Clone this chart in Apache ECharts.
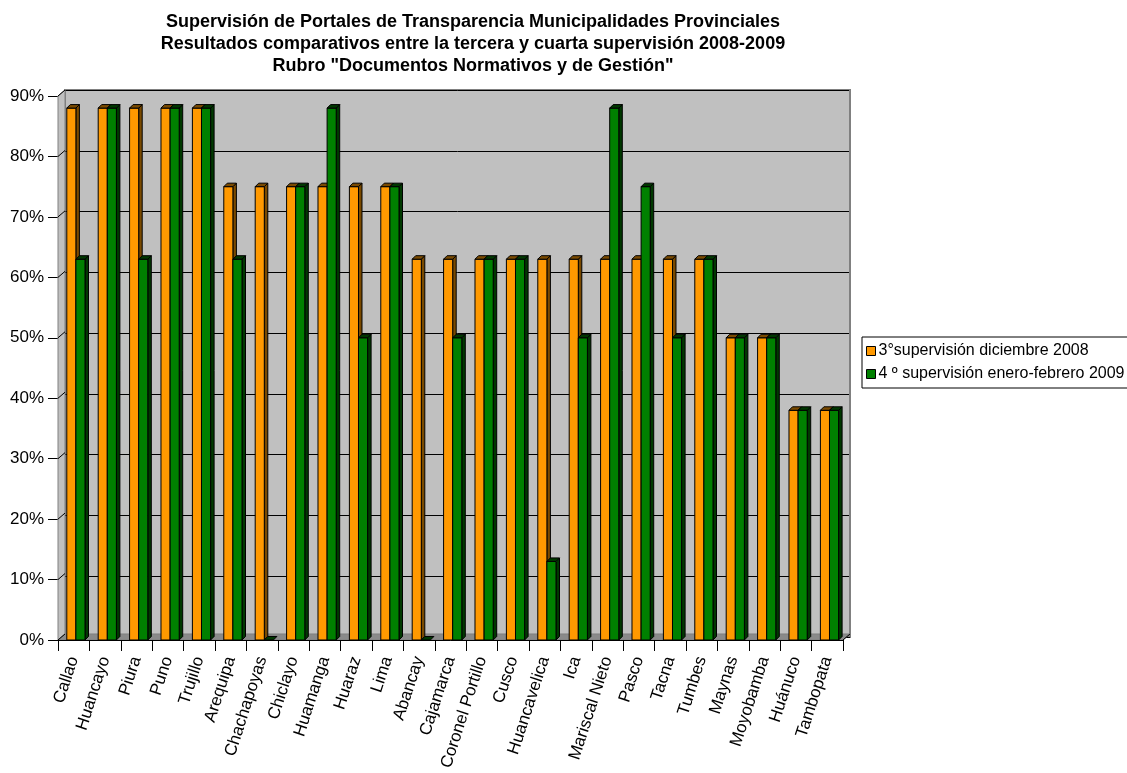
<!DOCTYPE html>
<html>
<head>
<meta charset="utf-8">
<script src="https://cdn.jsdelivr.net/npm/echarts@6/dist/echarts.min.js"></script>
<style>html,body{margin:0;padding:0;background:#fff;}#c{width:1127px;height:773px;}</style>
</head>
<body>
<div id="c"></div>
<script>
const categories = ['Callao','Huancayo','Piura','Puno','Trujillo','Arequipa','Chachapoyas','Chiclayo','Huamanga','Huaraz','Lima','Abancay','Cajamarca','Coronel Portillo','Cusco','Huancavelica','Ica','Mariscal Nieto','Pasco','Tacna','Tumbes','Maynas','Moyobamba','Huánuco','Tambopata'];
const tercera = [88,88,88,88,88,75,75,75,75,75,75,63,63,63,63,63,63,63,63,63,63,50,50,38,38];
const cuarta  = [63,88,63,88,88,63,0,75,88,50,75,0,50,63,63,13,50,88,75,50,63,50,50,38,38];
const seriesNames = ['3°supervisión diciembre 2008','4 º supervisión enero-febrero 2009'];
const yTicks = [0,10,20,30,40,50,60,70,80,90];
const titleText = 'Supervisión de Portales de Transparencia Municipalidades Provinciales\nResultados comparativos entre la tercera y cuarta supervisión 2008-2009\nRubro "Documentos Normativos y de Gestión"';

const DX = 7, DY = 6; // wall depth
const font = 'Arial, "Liberation Sans", sans-serif';

function barRenderer(offFrac, front, dark) {
  return function (params, api) {
    const idx = api.value(0), v = api.value(1);
    const base = api.coord([idx, 0]);
    const top = api.coord([idx, v]);
    const band = api.size([1, 0])[0];
    const w = band * 0.29;
    const x0 = base[0] + offFrac * band;
    const x1 = x0 + w;
    const d = 3.5;
    const yb = base[1], yt = top[1];
    const children = [];
    if (v > 0) {
      children.push({type:'polygon', shape:{points:[[x1,yb],[x1+d,yb-d],[x1+d,yt-d],[x1,yt]]}, style:{fill:dark, stroke:'#000', lineWidth:1}});
      children.push({type:'rect', shape:{x:x0, y:yt, width:w, height:yb-yt}, style:{fill:front, stroke:'#000', lineWidth:1}});
    }
    children.push({type:'polygon', shape:{points:[[x0,yt],[x0+d,yt-d],[x1+d,yt-d],[x1,yt]]}, style:{fill:dark, stroke:'#000', lineWidth:1}});
    return {type:'group', children};
  };
}

function frameRenderer(params, api) {
  const cs = params.coordSys;
  const x = cs.x, y = cs.y, w = cs.width, h = cs.height;
  const yb = y + h;
  const children = [];
  children.push({type:'polygon', shape:{points:[[x,y],[x+DX,y-DY],[x+DX,yb-DY],[x,yb]]}, style:{fill:'#C0C0C0', stroke:'#808080', lineWidth:1}});
  children.push({type:'polygon', shape:{points:[[x,yb],[x+DX,yb-DY],[x+w+DX,yb-DY],[x+w,yb]]}, style:{fill:'#8a8a8a', stroke:'#808080', lineWidth:1}});
  yTicks.forEach(t => {
    const p = api.coord([0, t]);
    children.push({type:'line', shape:{x1:x, y1:p[1], x2:x+DX, y2:p[1]-DY}, style:{stroke:'#000', lineWidth:1}});
  });
  children.push({type:'line', shape:{x1:x+w, y1:yb, x2:x+w+DX, y2:yb-DY}, style:{stroke:'#000', lineWidth:1}});
  children.push({type:'line', shape:{x1:x+w+DX, y1:yb-DY, x2:x+w+DX, y2:y-DY}, style:{stroke:'#808080', lineWidth:2}});
  return {type:'group', children};
}

const chart = echarts.init(document.getElementById('c'), null, {renderer:'canvas'});
const gridL = 58, gridT = 96, gridW = 785, gridH = 547;
chart.setOption({
  animation: false,
  backgroundColor: '#fff',
  title: {
    text: titleText, left: 468, top: 6, textAlign: 'center',
    textStyle: {fontFamily: font, fontSize: 18, fontWeight: 'bold', color: '#000', lineHeight: 22}
  },
  legend: {
    orient: 'vertical', left: 862, top: 337,
    data: seriesNames,
    itemWidth: 9, itemHeight: 9, itemGap: 7,
    padding: [6, 30, 6, 4],
    borderColor: '#000', borderWidth: 1,
    icon: 'rect',
    itemStyle: {borderColor: '#000', borderWidth: 1},
    textStyle: {fontFamily: font, fontSize: 16, color: '#000', padding: [0,0,0,-2]}
  },
  grid: [
    {left: gridL, top: gridT, width: gridW, height: gridH, z: 2},
    {left: gridL + DX, top: gridT - DY, width: gridW, height: gridH, show: true, backgroundColor: '#C0C0C0', borderColor: '#808080', borderWidth: 2, z: 0}
  ],
  xAxis: [
    {type: 'category', gridIndex: 0, data: categories,
     axisLine: {show: true, lineStyle: {color: '#000', width: 1}},
     axisTick: {show: true, length: 11, lineStyle: {color: '#000'}},
     axisLabel: {rotate: 72, margin: 17, interval: 0, fontFamily: font, fontSize: 17, color: '#000'},
     z: 5},
    {type: 'category', gridIndex: 1, data: categories, show: false}
  ],
  yAxis: [
    {type: 'value', gridIndex: 0, min: 0, max: 90, interval: 10,
     axisLine: {show: true, lineStyle: {color: '#808080'}},
     axisTick: {show: true, length: 10, lineStyle: {color: '#000'}},
     axisLabel: {formatter: '{value}%', fontFamily: font, fontSize: 17, color: '#000', margin: 14},
     splitLine: {show: false}},
    {type: 'value', gridIndex: 1, min: 0, max: 90, interval: 10,
     axisLine: {show: false}, axisTick: {show: false}, axisLabel: {show: false},
     splitLine: {show: true, lineStyle: {color: '#000', width: 1}}}
  ],
  series: [
    {type: 'custom', name: 'frame', xAxisIndex: 0, yAxisIndex: 0, z: 1, silent: true,
     renderItem: frameRenderer, data: [[0, 0]], encode: {x: 0, y: 1}},
    {type: 'custom', name: seriesNames[0], xAxisIndex: 0, yAxisIndex: 0, z: 3,
     itemStyle: {color: '#FF9900'},
     renderItem: barRenderer(-0.22, '#FF9900', '#7a4a00'),
     data: tercera.map((v, i) => [i, v]), encode: {x: 0, y: 1}},
    {type: 'custom', name: seriesNames[1], xAxisIndex: 0, yAxisIndex: 0, z: 4,
     itemStyle: {color: '#008000'},
     renderItem: barRenderer(0.07, '#008000', '#003800'),
     data: cuarta.map((v, i) => [i, v]), encode: {x: 0, y: 1}}
  ]
});
</script>
</body>
</html>
